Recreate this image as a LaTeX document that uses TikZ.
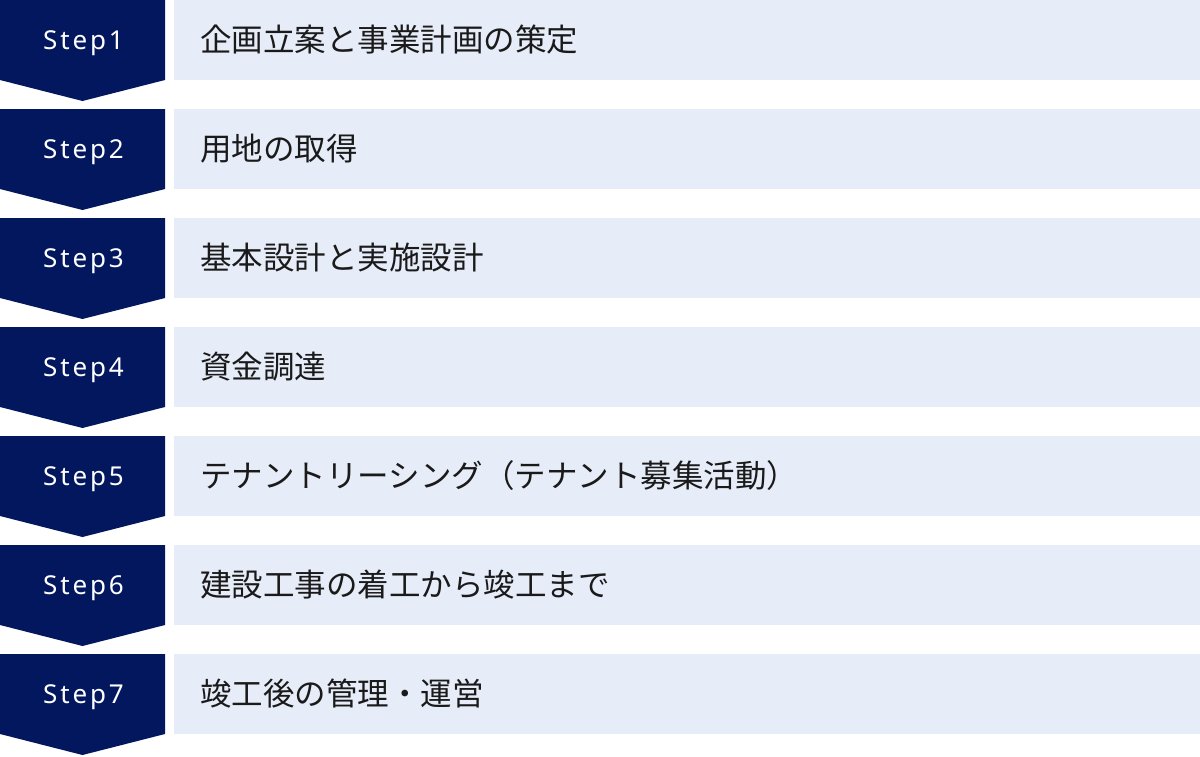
\documentclass[tikz,border=0pt]{standalone}
\usepackage{fontspec}
\setmainfont{Noto Sans CJK JP}
\newfontfamily\stepfont[LetterSpace=11]{Noto Sans}
\definecolor{navy}{HTML}{03175F}
\definecolor{lightbar}{HTML}{E7ECF9}
\definecolor{txt}{HTML}{1A1A1A}
\begin{document}
\begin{tikzpicture}[x=1pt,y=-1pt,
  chevron/.style={fill=navy,draw=none},
  bar/.style={fill=lightbar,draw=none},
  steplabel/.style={anchor=base,text=white,font=\stepfont\fontsize{26}{26}\selectfont,inner sep=0pt},
  steptext/.style={anchor=base west,text=txt,font=\fontsize{31.5}{31.5}\selectfont,inner sep=0pt}]
\useasboundingbox (0,0) rectangle (1200,756);
\foreach \i/\t in {1/企画立案と事業計画の策定,2/用地の取得,3/基本設計と実施設計,4/資金調達,5/テナントリーシング（テナント募集活動）,6/建設工事の着工から竣工まで,7/竣工後の管理・運営}{
  \pgfmathsetmacro{\top}{(\i-1)*109}
  \fill[chevron] (0,\top) -- (165,\top) -- (165,\top+80) -- (82.5,\top+101) -- (0,\top+80) -- cycle;
  \fill[bar] (174,\top) rectangle (1200,\top+80);
  \node[steplabel] (s\i) at (83.5,\top+49.5) {Step\i};
  \node[steptext] (t\i) at (200,\top+51) {\t};
}
\end{tikzpicture}
\end{document}
